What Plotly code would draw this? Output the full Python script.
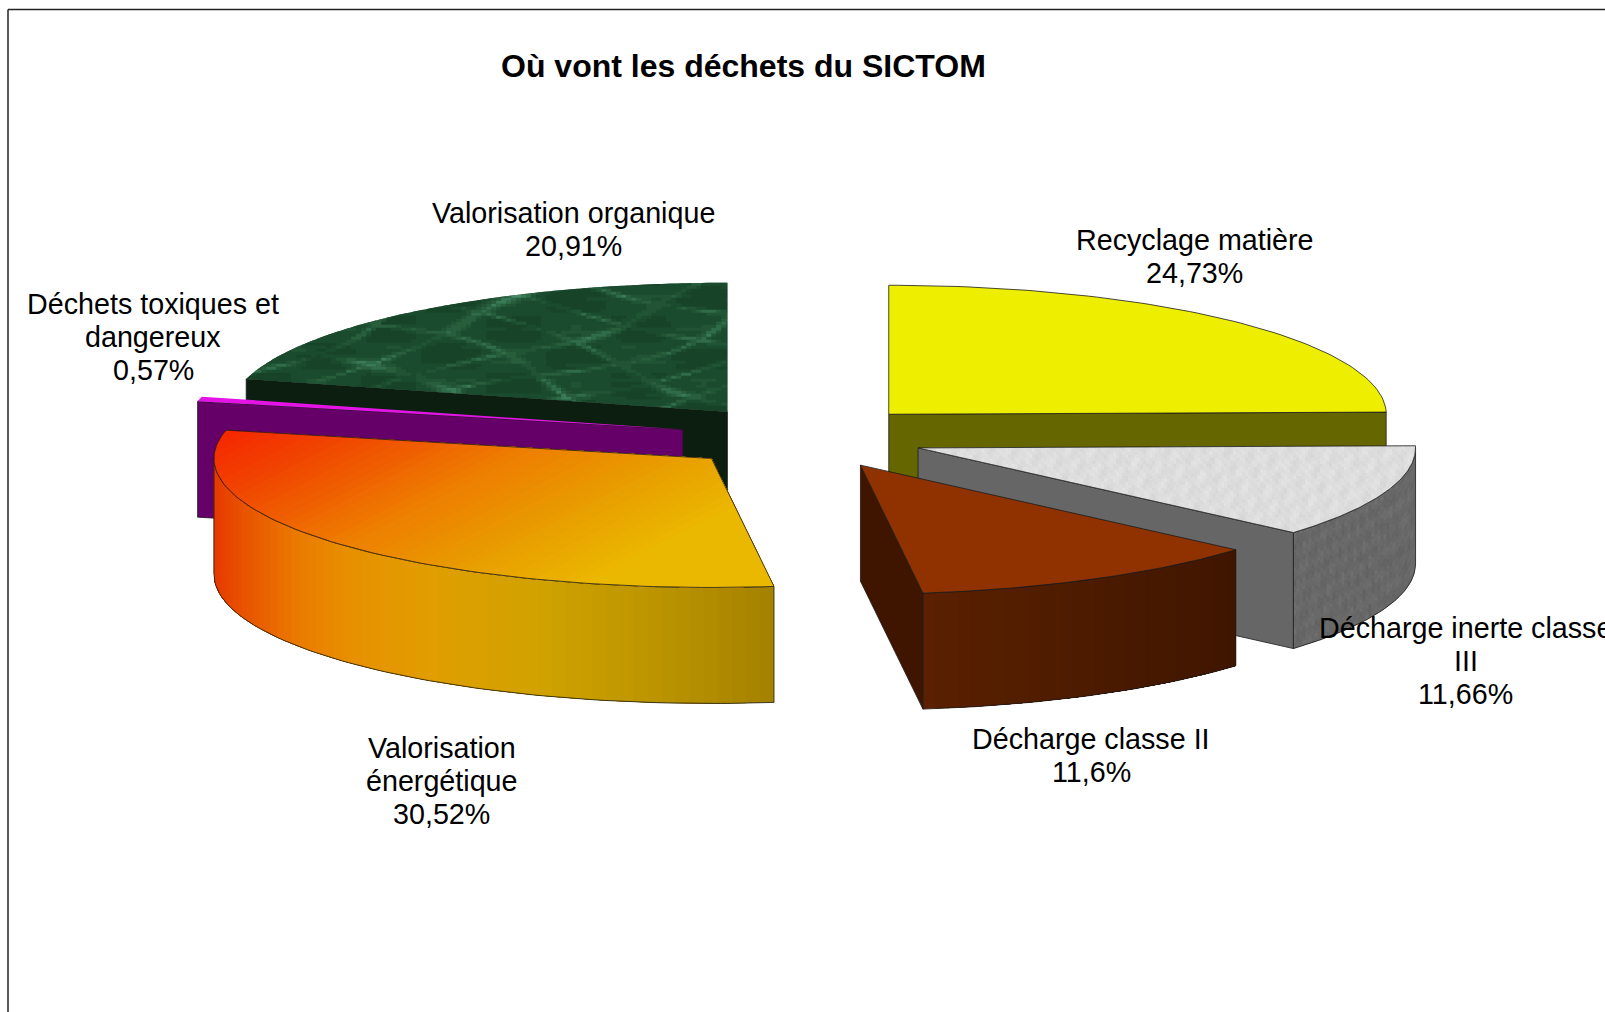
import math
import numpy as np
import plotly.graph_objects as go

# ---- data ----
categories = ["Recyclage matière", "Décharge inerte classe<br>III", "Décharge classe II",
              "Valorisation<br>énergétique", "Déchets toxiques et<br>dangereux", "Valorisation organique"]
values = [24.73, 11.66, 11.6, 30.52, 0.57, 20.91]
title_text = "Où vont les déchets du SICTOM"
label_x = [1194.6, 1465.8, 1091, 441.7, 153, 573.7]
label_y0 = [239.5, 627.5, 739, 748, 304, 213]
LINE_H = 33.2
LABEL_SIZE = 28.7

# ---- projection of the exploded 3D pie (pixels of the 1605x1012 frame) ----
RX, RY, H, CX, CY, PULL = 497.5, 129.0, 116.0, 802.5, 437.0, 123.0
total = sum(values)
cum = np.cumsum([0] + values)
starts = [c / total * 360 for c in cum[:-1]]
ends = [c / total * 360 for c in cum[1:]]

fig = go.Figure()


def hexc(c):
    return "#%02x%02x%02x" % tuple(int(round(v)) for v in c)


def ramp(stops, t):
    t = min(1, max(0, t))
    for (t0, c0), (t1, c1) in zip(stops, stops[1:]):
        if t <= t1:
            f = (t - t0) / (t1 - t0)
            a = [int(c0[i:i + 2], 16) for i in (1, 3, 5)]
            b = [int(c1[i:i + 2], 16) for i in (1, 3, 5)]
            return hexc([p + (q - p) * f for p, q in zip(a, b)])
    return stops[-1][1]


def center(i):
    m = math.radians((starts[i] + ends[i]) / 2)
    return CX + PULL * math.sin(m), CY - PULL * (RY / RX) * math.cos(m)


def rim(c, a, z=0.0):
    r = math.radians(a)
    return c[0] + RX * math.sin(r), c[1] - RY * math.cos(r) + z


def arc(c, a0, a1, z=0.0, n=80):
    return [rim(c, a, z) for a in np.linspace(a0, a1, n)]


def poly(points, fill=None, line=None, width=0.8):
    xs = [p[0] for p in points] + [points[0][0]]
    ys = [p[1] for p in points] + [points[0][1]]
    fig.add_trace(go.Scatter(
        x=xs, y=ys, mode="lines", fill="toself" if fill else "none",
        fillcolor=fill, line=dict(color=line or fill, width=width if line else 0),
        hoverinfo="skip", showlegend=False))


def multi(polys, fill):
    xs, ys = [], []
    for p in polys:
        xs += [q[0] for q in p] + [p[0][0], None]
        ys += [q[1] for q in p] + [p[0][1], None]
    fig.add_trace(go.Scatter(x=xs, y=ys, mode="lines", fill="toself", fillcolor=fill,
                             line=dict(color=fill, width=0), hoverinfo="skip", showlegend=False))


def clip(points, nx, ny, d):
    out = []
    for k in range(len(points)):
        p, q = points[k], points[(k + 1) % len(points)]
        fp, fq = nx * p[0] + ny * p[1] - d, nx * q[0] + ny * q[1] - d
        if fp >= 0:
            out.append(p)
        if (fp >= 0) != (fq >= 0):
            s = fp / (fp - fq)
            out.append((p[0] + (q[0] - p[0]) * s, p[1] + (q[1] - p[1]) * s))
    return out


def textured(points, cell_w, cell_h, func, shades):
    xs = [p[0] for p in points]
    ys = [p[1] for p in points]
    groups = [[] for _ in shades]
    for x in np.arange(min(xs), max(xs), cell_w):
        for y in np.arange(min(ys), max(ys), cell_h):
            cellp = clip(points, 1, 0, x)
            cellp = clip(cellp, -1, 0, -(x + cell_w)) if cellp else cellp
            cellp = clip(cellp, 0, 1, y) if cellp else cellp
            cellp = clip(cellp, 0, -1, -(y + cell_h)) if cellp else cellp
            if len(cellp) >= 3:
                v = func(x + cell_w / 2, y + cell_h / 2)
                groups[min(len(shades) - 1, max(0, int(v * len(shades))))].append(cellp)
    for g, s in zip(groups, shades):
        if g:
            multi(g, s)


def marble(x, y):
    u = x * 0.028 + 0.9 * math.sin(y * 0.05)
    w = y * 0.085 + 0.8 * math.sin(x * 0.017)
    r1 = math.exp(-(math.sin(u + w) / 0.22) ** 2)
    r2 = math.exp(-(math.sin(u * 0.8 - w * 0.9 + 1.2) / 0.20) ** 2)
    r3 = math.exp(-(math.sin(y * 0.19 + 0.3 * math.sin(x * 0.04)) / 0.14) ** 2) * 0.4
    base = 0.26 + 0.12 * math.sin(x * 0.05 + 1) * math.sin(y * 0.11)
    gain = 0.55 + 0.3 * math.sin(x * 0.06 + y * 0.03)
    return min(0.99, max(0, base + 0.55 * max(r1, r2) * gain + 0.25 * r3))


def speck(x, y):
    s = (math.sin(x * 1.37 + y * 0.71) + math.sin(x * 0.53 - y * 1.91) +
         math.sin(x * 2.39 + y * 2.03) + math.sin(x * 0.21 + y * 0.33))
    return min(0.99, max(0, 0.5 + s / 6))


def radial_walls(i, color):
    c = center(i)
    a0, a1 = starts[i], ends[i]
    if 180 < a0 < 360:
        e = rim(c, a0)
        q = [c, e, (e[0], e[1] + H), (c[0], c[1] + H)]
        poly(q, color, "#1a1a1a")
    if 0 < a1 < 180:
        e = rim(c, a1)
        q = [c, e, (e[0], e[1] + H), (c[0], c[1] + H)]
        poly(q, color, "#1a1a1a")


def wall_range(i):
    return max(starts[i], 90), min(ends[i], 270)


def wall_poly(c, a0, a1):
    return arc(c, a0, a1) + arc(c, a1, a0, H)


def top_poly(i):
    c = center(i)
    return [c] + arc(c, starts[i], ends[i])


def outline(pts):
    poly(pts, None, "#1a1a1a", 0.8)


# ---- Valorisation organique ----
i = 5
radial_walls(i, "#0c1e10")
poly(top_poly(i), "#1c4c2c")
textured(top_poly(i), 5, 3,
         marble, ["#133c22", "#174428", "#1b4b2e", "#215434", "#285e3c", "#316c4a", "#3b7a58", "#478868"])

# ---- Recyclage matière ----
i = 0
radial_walls(i, "#666600")
poly(top_poly(i), "#eeee00", "#1a1a1a")

# ---- Déchets toxiques et dangereux ----
i = 4
radial_walls(i, "#650068")
poly(top_poly(i), "#e414e6")

# ---- Valorisation énergétique ----
i = 3
c = center(i)
a0, a1 = wall_range(i)
x_left, x_right = rim(c, 270)[0], rim(c, a0)[0]
wall_stops = [(0, "#e63800"), (.05, "#e85000"), (.15, "#ea7800"), (.25, "#e89000"),
              (.4, "#e09e00"), (.6, "#cfa200"), (.8, "#bc9400"), (1, "#a58300")]
for a in np.linspace(a0, a1, 60, endpoint=False):
    t = (rim(c, a)[0] - x_left) / (x_right - x_left)
    poly(wall_poly(c, a, a1), ramp(wall_stops, t))
outline(wall_poly(c, a0, a1))
top_stops = [(0, "#f52800"), (.2, "#f04800"), (.5, "#ee7e00"), (.75, "#e89c00"), (1, "#ebb800")]
top = top_poly(i)
NX, NY, T0, TL = 0.46, 0.89, 0.46 * 225 + 0.89 * 432, 300.0
poly(top, ramp(top_stops, 0))
for t in np.linspace(0, 1, 45):
    part = clip(top, NX, NY, T0 + t * TL)
    if len(part) >= 3:
        poly(part, ramp(top_stops, t))
outline(top)

# ---- Décharge inerte classe III ----
i = 1
c = center(i)
radial_walls(i, "#666666")
a0, a1 = wall_range(i)
wp = wall_poly(c, a0, a1)
poly(wp, "#686868")
shades = ["#626262", "#656565", "#686868", "#6b6b6b", "#6f6f6f"]
groups = [[] for _ in shades]


def front_y(x):
    return c[1] + RY * math.sqrt(max(0, 1 - ((x - c[0]) / RX) ** 2))


for x in np.arange(rim(c, a1)[0], rim(c, a0)[0], 3):
    x2 = min(x + 3, rim(c, a0)[0])
    for z in np.arange(0, H, 3):
        z2 = min(z + 3, H)
        g = speck(x, front_y(x) + z)
        groups[min(4, int(g * 5))].append([(x, front_y(x) + z), (x2, front_y(x2) + z),
                                           (x2, front_y(x2) + z2), (x, front_y(x) + z2)])
for g, s in zip(groups, shades):
    if g:
        multi(g, s)
outline(wp)
poly(top_poly(i), "#dcdcdc")
textured(top_poly(i), 3, 3, speck, ["#d7d7d7", "#dadada", "#dddddd", "#e0e0e0", "#e3e3e3"])
outline(top_poly(i))

# ---- Décharge classe II ----
i = 2
c = center(i)
radial_walls(i, "#3f1500")
a0, a1 = wall_range(i)
brown = [(0, "#5a2000"), (.5, "#4c1b00"), (1, "#3f1500")]
xa, xb = rim(c, a1)[0], rim(c, a0)[0]
for a in np.linspace(a1, a0, 30, endpoint=False):
    t = (rim(c, a)[0] - xa) / (xb - xa)
    poly(wall_poly(c, a, a0), ramp(brown, t))
outline(wall_poly(c, a0, a1))
poly(top_poly(i), "#8f3200", "#1a1a1a")

# ---- labels ----
annotations = [dict(x=743, y=65.5, xref="x", yref="y", text="<b>%s</b>" % title_text, showarrow=False,
                    font=dict(family="Liberation Sans", size=32, color="#000000"),
                    xanchor="center", yanchor="middle")]
for cat, v, lx, ly in zip(categories, values, label_x, label_y0):
    pct = ("%g" % v).replace(".", ",") + "%"
    for k, line in enumerate(cat.split("<br>") + [pct]):
        annotations.append(dict(x=lx, y=ly + k * LINE_H, xref="x", yref="y", text=line, showarrow=False,
                                font=dict(family="Liberation Sans", size=LABEL_SIZE, color="#000000"),
                                xanchor="center", yanchor="middle"))

# ---- frame: only its top and left edges are in view ----
shapes = [dict(type="line", xref="x", yref="y", x0=8, x1=8, y0=9.5, y1=1012, line=dict(color="#222222", width=1.5)),
          dict(type="line", xref="x", yref="y", x0=8, x1=1605, y0=9.5, y1=9.5, line=dict(color="#222222", width=1.5))]

fig.update_layout(
    width=1605, height=1012, margin=dict(l=0, r=0, t=0, b=0),
    paper_bgcolor="#ffffff", plot_bgcolor="#ffffff", showlegend=False,
    xaxis=dict(range=[0, 1605], visible=False, fixedrange=True),
    yaxis=dict(range=[1012, 0], visible=False, fixedrange=True),
    annotations=annotations, shapes=shapes)

fig.write_html("out.html", config=dict(displayModeBar=False),
               post_script="document.body.style.margin='0';document.body.style.overflow='hidden';")
